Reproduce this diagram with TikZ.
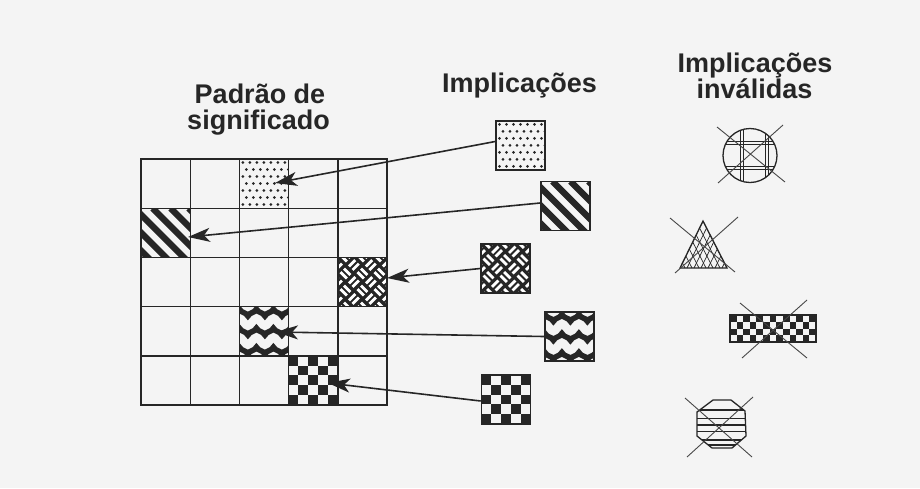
\documentclass[tikz,border=0pt]{standalone}
\usepackage{fontspec}
\setmainfont{Liberation Sans}
\usetikzlibrary{arrows.meta}
\definecolor{linec}{HTML}{262626}
\definecolor{paper}{HTML}{F4F4F4}
% each pattern macro takes a node/coordinate name (centre of a 49.2 square)
\newcommand\PatDots[1]{\begin{scope}[shift={(#1)}]
 \clip (-24.6,-24.6) rectangle (24.6,24.6);
 \foreach \r in {0,2,4,6}{\foreach \c in {0,...,6}{\fill[linec] (-21.1+\c*7,-21.1+\r*7) circle[radius=1.5pt];}}
 \foreach \r in {1,3,5}{\foreach \c in {0,...,6}{\fill[linec] (-17.6+\c*7,-21.1+\r*7) circle[radius=1.5pt];}}
\end{scope}}
\newcommand\PatStripes[1]{\begin{scope}[shift={(#1)}]
 \clip (-24.6,-24.6) rectangle (24.6,24.6);
 \foreach \k in {-63,-45,...,45}{\draw[linec,line width=6.5pt] (\k-22,-24.6) -- ++(52,52);}
\end{scope}}
\newcommand\PatWeave[1]{\begin{scope}[shift={(#1)}]
 \clip (-24.6,-24.6) rectangle (24.6,24.6);
 \fill[linec] (-26,-26) rectangle (26,26);
 \begin{scope}[rotate=45]
 \foreach \i in {-3,...,2}{\foreach \j in {-3,...,2}{%
  \pgfmathtruncatemacro\wvp{mod(\i+\j+10,2)}%
  \ifnum\wvp=0
   \draw[white,line width=2.8pt] (\i*12+1.5,\j*12+3.5) -- ++(9,0) (\i*12+1.5,\j*12+8.5) -- ++(9,0);
  \else
   \draw[white,line width=2.8pt] (\i*12+3.5,\j*12+1.5) -- ++(0,9) (\i*12+8.5,\j*12+1.5) -- ++(0,9);
  \fi}}
 \end{scope}
\end{scope}}
\newcommand\PatWave[1]{\begin{scope}[shift={(#1)}]
 \clip (-24.6,-24.6) rectangle (24.6,24.6);
 \foreach \yy in {-18.6,0.4,19.4}{\draw[linec,line width=5.5pt] (-33.1,\yy+3.5)
   sin ++(4.25,-3.5) cos ++(4.25,-3.5) sin ++(4.25,3.5) cos ++(4.25,3.5)
   sin ++(4.25,-3.5) cos ++(4.25,-3.5) sin ++(4.25,3.5) cos ++(4.25,3.5)
   sin ++(4.25,-3.5) cos ++(4.25,-3.5) sin ++(4.25,3.5) cos ++(4.25,3.5)
   sin ++(4.25,-3.5) cos ++(4.25,-3.5) sin ++(4.25,3.5) cos ++(4.25,3.5)
   sin ++(4.25,-3.5) cos ++(4.25,-3.5) sin ++(4.25,3.5) cos ++(4.25,3.5);}
\end{scope}}
\newcommand\PatCheck[1]{\begin{scope}[shift={(#1)}]
 \foreach \i in {0,...,4}{\foreach \j in {0,...,4}{%
  \pgfmathtruncatemacro\ckp{mod(\i+\j,2)}%
  \ifnum\ckp=0 \fill[linec] (-24.6+\i*9.84,-24.6+\j*9.84) rectangle ++(9.84,9.84);\fi}}
\end{scope}}
\tikzset{
 cell/.style={rectangle,minimum size=49.2pt,inner sep=0pt,draw=linec,line width=1.4pt},
 arr/.style={draw=linec,line width=1.6pt,-{Stealth[length=22pt,width=14pt,inset=6pt]}},
 hd/.style={font=\fontsize{27}{30}\selectfont\bfseries,text=linec,inner sep=0pt,anchor=base},
 xline/.style={draw=linec!85,line width=0.9pt},
 shp/.style={draw=linec,line width=1.3pt}
}
\begin{document}
\begin{tikzpicture}[x=1pt,y=-1pt]
\fill[paper] (0,0) rectangle (920,488);
\useasboundingbox (0,0) rectangle (920,488);
% headings
\node[hd] (h1a) at (260,103) {Padrão de};
\node[hd] (h1b) at (258.5,129.5) {significado};
\node[hd] (h2) at (519.5,92) {Implicações};
\node[hd] (h3a) at (755,72) {Implicações};
\node[hd] (h3b) at (754.5,98) {inválidas};
% grid
\foreach \r in {0,...,4}{\foreach \c in {0,...,4}{
 \node[cell] (g-\r-\c) at ({165.6+49.2*\c},{183.6+49.2*\r}) {};}}
\PatDots{g-0-2}\node[cell] (p1) at (g-0-2) {};
\PatStripes{g-1-0}\node[cell] (p2) at (g-1-0) {};
\PatWeave{g-2-4}\node[cell] (p3) at (g-2-4) {};
\PatWave{g-3-2}\node[cell] (p4) at (g-3-2) {};
\PatCheck{g-4-3}\node[cell] (p5) at (g-4-3) {};
% source squares
\coordinate (c1) at (520.5,145.5);
\coordinate (c2) at (565.5,206);
\coordinate (c3) at (505.5,268.5);
\coordinate (c4) at (569.5,336.5);
\coordinate (c5) at (506,399.5);
\PatDots{c1}\node[cell] (s1) at (c1) {};
\PatStripes{c2}\node[cell] (s2) at (c2) {};
\PatWeave{c3}\node[cell] (s3) at (c3) {};
\PatWave{c4}\node[cell] (s4) at (c4) {};
\PatCheck{c5}\node[cell] (s5) at (c5) {};
% arrow tips
\coordinate (t1) at (275,183);
\coordinate (t2) at (188,237);
\coordinate (t3) at (387,278);
\coordinate (t4) at (276,332);
\coordinate (t5) at (328,383);
\draw[arr] ([yshift=4pt]s1.west) -- (t1);
\draw[arr] ([yshift=3pt]s2.west) -- (t2);
\draw[arr] (s3.west) -- (t3);
\draw[arr] (s4.west) -- (t4);
\draw[arr] ([yshift=-1.5pt]s5.west) -- (t5);
% invalid: circle
\begin{scope}
 \clip (750,155.5) circle[radius=27pt];
 \foreach \xx in {742,767}{\draw[linec,line width=1.1pt] (\xx-1.5,120)--(\xx-1.5,190) (\xx+1.5,120)--(\xx+1.5,190);}
 \foreach \yy in {143,168}{\draw[linec,line width=1.1pt] (715,\yy-1.5)--(790,\yy-1.5) (715,\yy+1.5)--(790,\yy+1.5);}
\end{scope}
\draw[shp] (750,155.5) circle[radius=27pt];
\draw[xline] (717,127)--(785,182) (783,125)--(718,183);
% invalid: triangle
\begin{scope}
 \clip (703,221)--(680,268)--(727,268)--cycle;
 \foreach \k in {-28,-21,...,49}{\draw[linec,line width=0.7pt] (680+\k,268) -- ++(23,-47);}
 \foreach \k in {-28,-21,...,49}{\draw[linec,line width=0.7pt] (727-\k,268) -- ++(-24,-47);}
\end{scope}
\draw[shp] (703,221)--(680,268)--(727,268)--cycle;
\draw[xline] (670,218)--(735,272) (738,217)--(675,273);
% invalid: checkered bar
\foreach \i in {0,...,12}{\foreach \j in {0,...,3}{%
 \pgfmathtruncatemacro\ckq{mod(\i+\j,2)}%
 \ifnum\ckq=0 \fill[linec] (730+\i*6.615,315+\j*6.75) rectangle ++(6.615,6.75);\fi}}
\draw[shp] (730,315) rectangle (816,342);
\draw[xline] (740,303)--(807,358) (807,300)--(742,358);
% invalid: octagon
\begin{scope}
 \clip (713,400)--(731,400)--(745,411)--(746,436)--(732,448)--(712,448)--(697,436)--(697,412)--cycle;
 \foreach \yy in {410,418.3,425,431.7,440,445}{\draw[linec,line width=1.3pt] (690,\yy)--(755,\yy);}
\end{scope}
\draw[shp] (713,400)--(731,400)--(745,411)--(746,436)--(732,448)--(712,448)--(697,436)--(697,412)--cycle;
\draw[xline] (685,398)--(752,457) (753,397)--(687,457);
\end{tikzpicture}
\end{document}
